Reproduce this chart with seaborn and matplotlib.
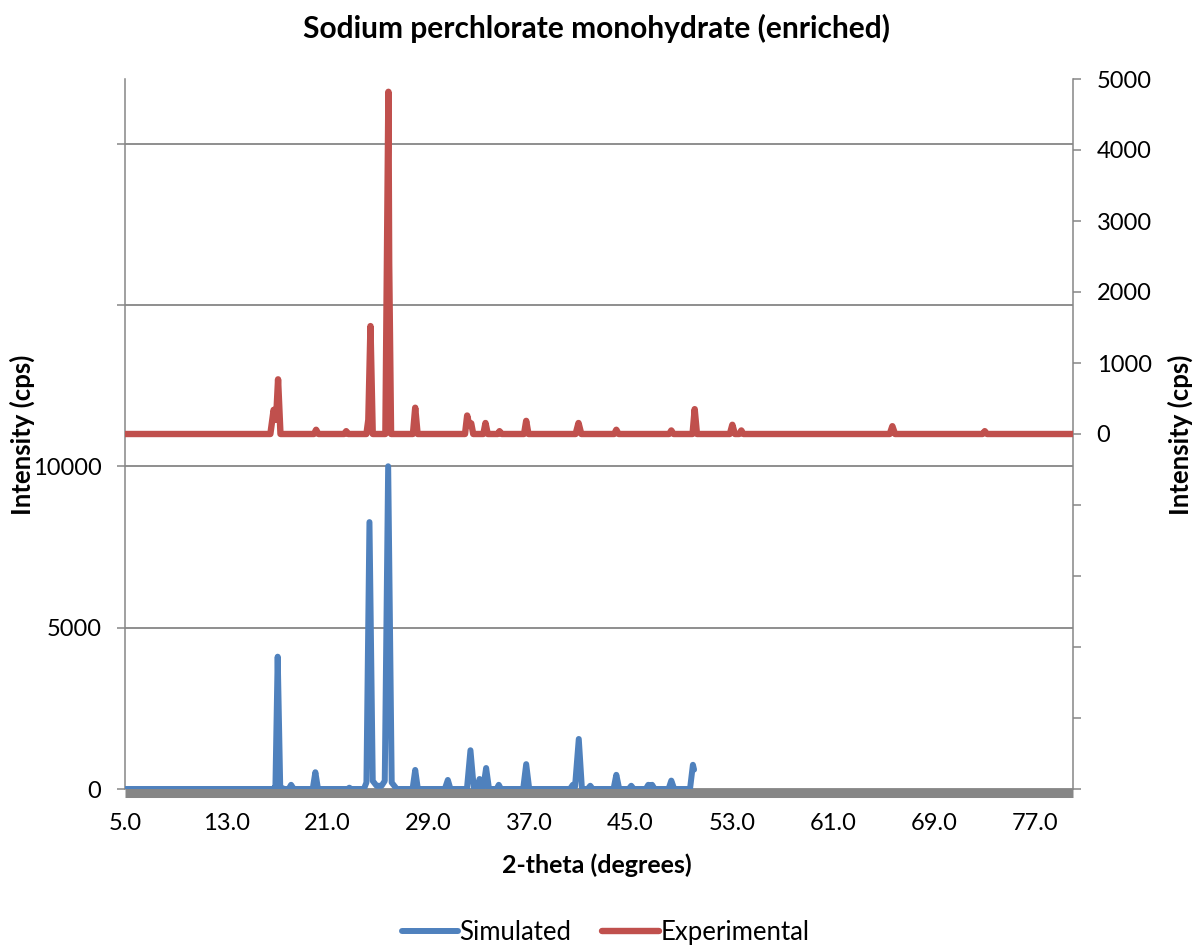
import numpy as np
import pandas as pd
import matplotlib
matplotlib.use("Agg")
import matplotlib.pyplot as plt
import seaborn as sns

# Simulated powder pattern (left axis), vertices of the trace in 2-theta / counts
sim_two_theta = [5.0, 16.7, 16.9, 17.08, 17.28, 17.6, 17.95, 18.14, 18.35, 19.85,
                 20.06, 20.27, 22.6, 22.75, 22.9, 23.9, 24.1, 24.34, 24.6, 24.9,
                 25.3, 25.55, 25.82, 26.1, 26.5, 27.75, 27.96, 28.17, 30.3, 30.54,
                 30.75, 32.05, 32.33, 32.6, 32.85, 33.05, 33.25, 33.35, 33.57, 33.8,
                 34.4, 34.57, 34.75, 36.5, 36.74, 36.98, 40.2, 40.43, 40.6, 40.9,
                 41.15, 41.6, 41.81, 42.0, 43.65, 43.87, 44.1, 44.85, 45.05, 45.25,
                 46.2, 46.4, 46.55, 46.7, 46.9, 48.0, 48.22, 48.45, 49.7, 49.93,
                 50.02]
sim_counts = [0, 0, 60, 4100, 60, 0, 0, 130, 0, 0,
              520, 0, 0, 40, 0, 0, 200, 8270, 250, 100,
              100, 250, 10000, 200, 0, 0, 590, 0, 0, 280,
              0, 0, 1200, 0, 0, 310, 60, 60, 650, 0,
              0, 130, 0, 0, 770, 0, 0, 130, 60, 1550,
              0, 0, 100, 0, 0, 440, 0, 0, 100, 0,
              0, 130, 100, 130, 0, 0, 260, 0, 0, 750,
              600]

# Measured pattern (right axis)
exp_two_theta = [5.0, 16.5, 16.76, 16.95, 17.11, 17.3, 19.95, 20.12, 20.3, 22.35,
                 22.5, 22.65, 24.1, 24.25, 24.42, 24.6, 25.6, 25.84, 25.9, 26.05,
                 27.78, 27.96, 28.15, 31.9, 32.07, 32.25, 32.39, 32.55, 33.35, 33.52,
                 33.7, 34.5, 34.63, 34.8, 36.57, 36.74, 36.92, 40.65, 40.88, 41.1,
                 43.7, 43.87, 44.05, 48.05, 48.22, 48.4, 49.9, 50.07, 50.25, 52.85,
                 53.05, 53.25, 53.6, 53.76, 53.92, 65.5, 65.71, 65.92, 72.85, 73.02,
                 73.2, 80.0]
exp_counts = [0, 0, 340, 200, 770, 0, 0, 60, 0, 0,
              40, 0, 0, 200, 1520, 0, 0, 4820, 2400, 0,
              0, 370, 0, 0, 260, 120, 150, 0, 0, 155,
              0, 0, 40, 0, 0, 185, 0, 0, 155, 0,
              0, 60, 0, 0, 50, 0, 0, 350, 0, 0,
              130, 0, 0, 50, 0, 0, 110, 0, 0, 40,
              0, 0]

x_ticks = [5.0, 13.0, 21.0, 29.0, 37.0, 45.0, 53.0, 61.0, 69.0, 77.0]
left_ticks = [0, 5000, 10000, 15000, 20000]
left_labels = ["0", "5000", "10000", "", ""]
right_ticks = [-5000, -4000, -3000, -2000, -1000, 0, 1000, 2000, 3000, 4000, 5000]
right_labels = ["", "", "", "", "", "0", "1000", "2000", "3000", "4000", "5000"]

sns.set_theme(style="white")
plt.rcParams["font.family"] = ["Lato", "DejaVu Sans"]
plt.rcParams["text.color"] = "black"

BLUE = "#4F81BD"
RED = "#C0504D"
GREY = "#868686"

sim = pd.DataFrame({"two_theta": sim_two_theta, "counts": sim_counts})
exp = pd.DataFrame({"two_theta": exp_two_theta, "counts": exp_counts})

W, H = 1193, 949
fig = plt.figure(figsize=(W / 100, H / 100), dpi=100)
ax = fig.add_axes([125 / W, 1 - 789 / H, (1073 - 125) / W, (789 - 79) / H])
ax2 = ax.twinx()

sns.lineplot(data=sim, x="two_theta", y="counts", ax=ax, color=BLUE, linewidth=4.3,
             estimator=None, sort=False, zorder=3, label="Simulated")
sns.lineplot(data=exp, x="two_theta", y="counts", ax=ax2, color=RED, linewidth=4.6,
             estimator=None, sort=False, zorder=3, label="Experimental")
for l in ax.lines + ax2.lines:
    l.set_solid_joinstyle("round")
    l.set_solid_capstyle("round")

ax.set_xlim(5, 80)
ax.set_ylim(0, 22000)
ax2.set_ylim(-5000, 5000)

ax.set_xticks(x_ticks)
ax.set_xticklabels([f"{v:.1f}" for v in x_ticks])
ax.set_yticks(left_ticks)
ax.set_yticklabels(left_labels)
ax2.set_yticks(right_ticks)
ax2.set_yticklabels(right_labels)

ax.tick_params(axis="x", length=0, pad=14, labelsize=17, colors="black")
ax.tick_params(axis="y", direction="out", length=6, width=1.1, color=GREY, pad=11,
               labelsize=17, labelcolor="black", left=True)
ax2.tick_params(axis="y", direction="out", length=6, width=1.1, color=GREY, pad=11,
                labelsize=17, labelcolor="black", right=True)

ax.grid(axis="y", color=GREY, linewidth=1.3)
ax.grid(axis="x", visible=False)
ax2.grid(False)
ax.set_axisbelow(True)

for a in (ax, ax2):
    a.spines["top"].set_visible(False)
    a.set_xlabel("")
    a.set_ylabel("")
ax.spines["right"].set_visible(False)
ax.spines["left"].set_color(GREY)
ax.spines["left"].set_linewidth(1.1)
ax.spines["bottom"].set_color(GREY)
ax.spines["bottom"].set_linewidth(6.5)
ax.spines["bottom"].set_position(("outward", 3))
ax.spines["bottom"].set_capstyle("butt")
ax2.spines["left"].set_visible(False)
ax2.spines["bottom"].set_visible(False)
ax2.spines["right"].set_color(GREY)
ax2.spines["right"].set_linewidth(1.1)

handles = ax.get_lines()[:1] + ax2.get_lines()[:1]
if ax.get_legend():
    ax.get_legend().remove()
if ax2.get_legend():
    ax2.get_legend().remove()
fig.legend(handles, ["Simulated", "Experimental"], loc="lower center",
           bbox_to_anchor=(0.5 + 9 / W, -0.02), ncol=2, frameon=False, fontsize=18.5,
           handlelength=2.2, handletextpad=0.05, columnspacing=1.2)

fig.text(0.5, 1 - 28 / H, "Sodium perchlorate monohydrate (enriched)", ha="center",
         va="center", fontsize=21.5, fontweight="bold", color="black")
fig.text(0.5, 1 - 865 / H, "2-theta (degrees)", ha="center", va="center",
         fontsize=18, fontweight="bold", color="black")
fig.text(22 / W, 1 - 435 / H, "Intensity (cps)", ha="center", va="center",
         rotation=90, fontsize=18.5, fontweight="bold", color="black")
fig.text(1180 / W, 1 - 435 / H, "Intensity (cps)", ha="center", va="center",
         rotation=90, fontsize=18.5, fontweight="bold", color="black")

fig.savefig("out.png", dpi=100, facecolor="white")
